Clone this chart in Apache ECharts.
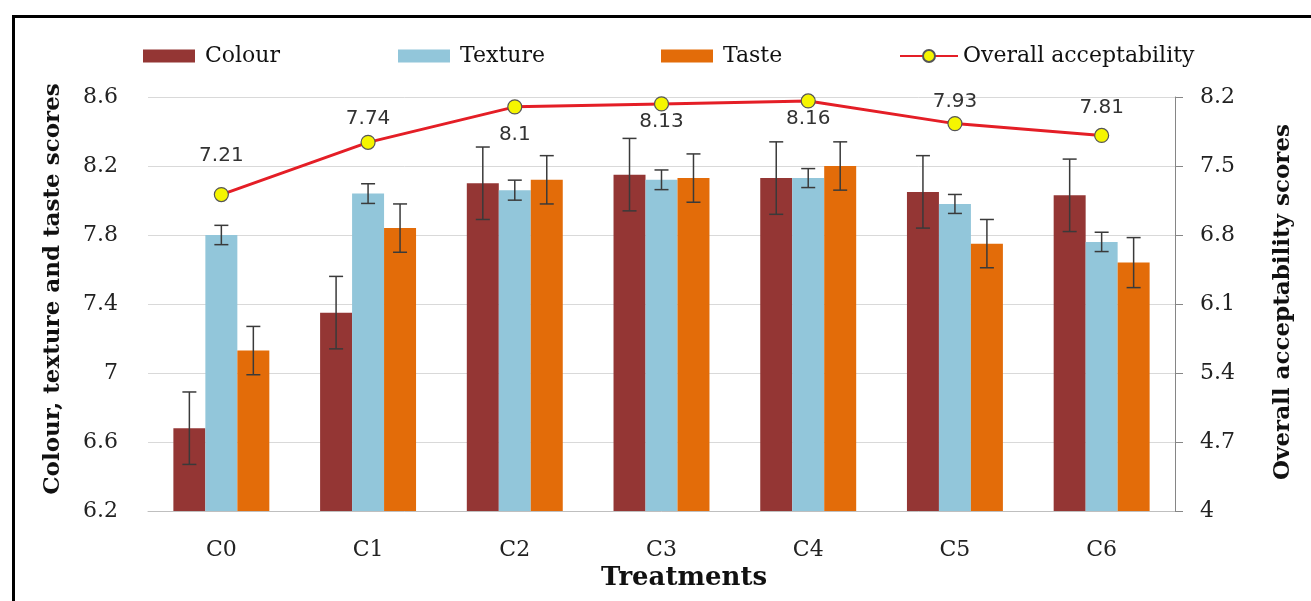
<!DOCTYPE html>
<html>
<head>
<meta charset="utf-8">
<script src="https://cdn.jsdelivr.net/npm/echarts@6/dist/echarts.min.js"></script>
<style>
html,body{margin:0;padding:0;background:#fff;}
#chart{width:1311px;height:601px;}
</style>
</head>
<body>
<div id="chart"></div>
<script>
// ---- data ----
var categories = ['C0', 'C1', 'C2', 'C3', 'C4', 'C5', 'C6'];
var colour     = [6.68, 7.35, 8.10, 8.15, 8.13, 8.05, 8.03];
var colourErr  = [0.21, 0.21, 0.21, 0.21, 0.21, 0.21, 0.21];
var texture    = [7.80, 8.04, 8.06, 8.12, 8.13, 7.98, 7.76];
var textureErr = [0.056, 0.057, 0.058, 0.057, 0.055, 0.055, 0.056];
var taste      = [7.13, 7.84, 8.12, 8.13, 8.20, 7.75, 7.64];
var tasteErr   = [0.14, 0.14, 0.14, 0.14, 0.14, 0.14, 0.145];
var overall    = [7.21, 7.74, 8.1, 8.13, 8.16, 7.93, 7.81];
var leftTicks  = {min: 6.2, max: 8.6, interval: 0.4};
var rightTicks = {min: 4, max: 8.2, interval: 0.7};

// ---- styling (not data) ----
var labelSide = ['top', 'top', 'bottom', 'bottom', 'bottom', 'top', 'top'];
var labelDist = [21, 6, 10, 0, 0, 4, 10];
var BAR_FRAC = 0.218;
var serif = 'DejaVu Serif';

var chart = echarts.init(document.getElementById('chart'), null, {renderer: 'canvas'});

function fmt(v) { return String(Math.round(v * 10) / 10); }

function errSeries(name, vals, errs, k) {
  var data = vals.map(function (v, i) { return [i, v, errs[i]]; });
  return {
    type: 'custom',
    name: name + ' error',
    yAxisIndex: 0,
    z: 5,
    silent: true,
    data: data,
    renderItem: function (params, api) {
      var i = api.value(0), v = api.value(1), e = api.value(2);
      var band = api.size([1, 0])[0];
      var off = band * BAR_FRAC * k;
      var top = api.coord([i, v + e]);
      var bot = api.coord([i, v - e]);
      var x = top[0] + off;
      var cap = 7;
      var st = {stroke: '#3a3a3a', lineWidth: 1.5};
      return {
        type: 'group',
        children: [
          {type: 'line', shape: {x1: x, y1: top[1], x2: x, y2: bot[1]}, style: st},
          {type: 'line', shape: {x1: x - cap, y1: top[1], x2: x + cap, y2: top[1]}, style: st},
          {type: 'line', shape: {x1: x - cap, y1: bot[1], x2: x + cap, y2: bot[1]}, style: st}
        ]
      };
    }
  };
}

var lineData = overall.map(function (v, i) {
  return {value: v, label: {position: labelSide[i], distance: labelDist[i]}};
});

var legendCommon = {
  top: 40,
  itemWidth: 52,
  itemHeight: 13,
  icon: 'rect',
  textStyle: {fontFamily: serif, fontSize: 22, color: '#111', padding: [0, 0, 0, 5]}
};

var option = {
  backgroundColor: '#ffffff',
  animation: false,
  grid: {left: 148, right: 136, top: 97, bottom: 90},
  legend: [
    Object.assign({}, legendCommon, {left: 138, data: ['Colour']}),
    Object.assign({}, legendCommon, {left: 393, data: ['Texture']}),
    Object.assign({}, legendCommon, {left: 656, data: ['Taste']}),
    Object.assign({}, legendCommon, {left: 894, itemWidth: 58, itemHeight: 15, icon: null,
      textStyle: {fontFamily: serif, fontSize: 22, color: '#111', padding: [0, 0, 0, 0]},
      data: ['Overall acceptability']})
  ],
  xAxis: {
    type: 'category',
    data: categories,
    axisTick: {show: false},
    axisLine: {lineStyle: {color: '#bfbfbf', width: 1}},
    axisLabel: {fontFamily: serif, fontSize: 22, color: '#222', margin: 28}
  },
  yAxis: [
    {
      type: 'value',
      min: leftTicks.min, max: leftTicks.max, interval: leftTicks.interval,
      axisLine: {show: false},
      axisTick: {show: false},
      splitLine: {lineStyle: {color: '#d9d9d9', width: 1}},
      axisLabel: {fontFamily: serif, fontSize: 22, color: '#222', margin: 30, formatter: fmt}
    },
    {
      type: 'value',
      position: 'right',
      min: rightTicks.min, max: rightTicks.max, interval: rightTicks.interval,
      axisLine: {show: true, lineStyle: {color: '#868686', width: 1}},
      axisTick: {show: true, length: 8, lineStyle: {color: '#868686'}},
      splitLine: {show: false},
      axisLabel: {fontFamily: serif, fontSize: 22, color: '#222', margin: 25, formatter: fmt}
    }
  ],
  series: [
    {name: 'Colour', type: 'bar', data: colour, barWidth: (BAR_FRAC * 100) + '%', barGap: '0%',
     itemStyle: {color: '#943634'}},
    {name: 'Texture', type: 'bar', data: texture, barWidth: (BAR_FRAC * 100) + '%', barGap: '0%',
     itemStyle: {color: '#92c6da'}},
    {name: 'Taste', type: 'bar', data: taste, barWidth: (BAR_FRAC * 100) + '%', barGap: '0%',
     itemStyle: {color: '#e36c09'}},
    errSeries('Colour', colour, colourErr, -1),
    errSeries('Texture', texture, textureErr, 0),
    errSeries('Taste', taste, tasteErr, 1),
    {
      name: 'Overall acceptability', type: 'line', yAxisIndex: 1, z: 10,
      data: lineData,
      symbol: 'circle', symbolSize: 14,
      lineStyle: {color: '#e41e26', width: 3},
      itemStyle: {color: '#f5f500', borderColor: '#555', borderWidth: 1.2},
      label: {show: true, fontFamily: 'DejaVu Sans', fontSize: 20, color: '#333'}
    }
  ],
  graphic: [
    {type: 'rect', left: 11, top: 14, z: 100, silent: true,
     shape: {x: 0, y: 0, width: 1400, height: 700},
     style: {fill: 'none', stroke: '#000', lineWidth: 3}},
    {type: 'text', x: 53, y: 289, rotation: Math.PI / 2, z: 100, silent: true,
     style: {text: 'Colour, texture and taste scores', font: 'bold 23px "DejaVu Serif"',
             fill: '#111', textAlign: 'center', textVerticalAlign: 'middle'}},
    {type: 'text', x: 1283, y: 302, rotation: Math.PI / 2, z: 100, silent: true,
     style: {text: 'Overall acceptability scores', font: 'bold 23px "DejaVu Serif"',
             fill: '#111', textAlign: 'center', textVerticalAlign: 'middle'}},
    {type: 'text', x: 684, y: 578, z: 100, silent: true,
     style: {text: 'Treatments', font: 'bold 26px "DejaVu Serif"',
             fill: '#111', textAlign: 'center', textVerticalAlign: 'middle'}}
  ]
};

chart.setOption(option);
</script>
</body>
</html>
